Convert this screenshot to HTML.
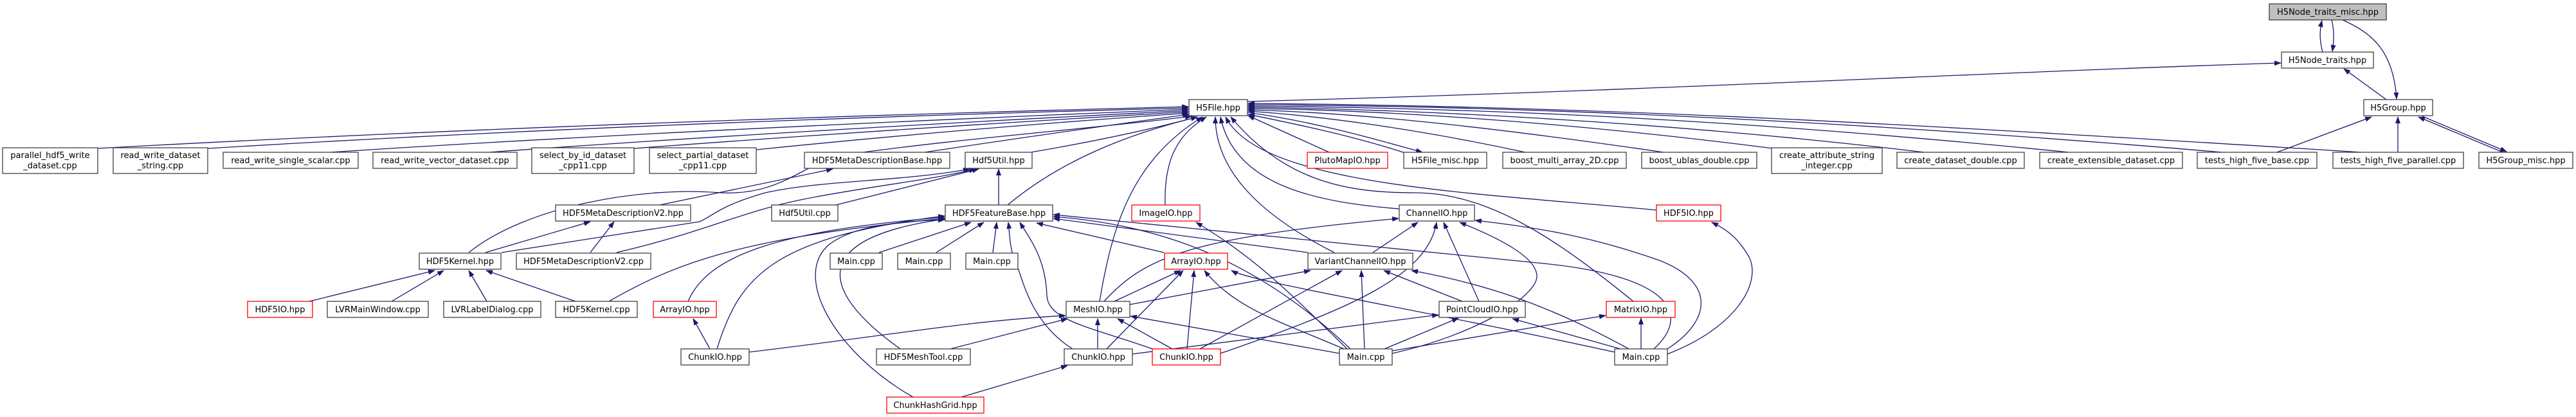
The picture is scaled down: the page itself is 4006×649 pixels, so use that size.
<!DOCTYPE html>
<html><head><meta charset="utf-8"><style>
html,body{margin:0;padding:0;background:#fff;}
svg{display:block;}
text{font-family:"DejaVu Sans","Liberation Sans",sans-serif;font-size:13px;fill:#000;text-anchor:middle;}
.e{fill:none;stroke:#191970;stroke-width:1.3;marker-end:url(#a);}
.n{fill:#fff;stroke:#404040;stroke-width:1.3;}
.r{fill:#fff;stroke:#ff0000;stroke-width:1.3;}
</style></head><body>
<svg width="4006" height="649" viewBox="0 0 4006 649" xmlns="http://www.w3.org/2000/svg">
<defs><marker id="a" markerUnits="userSpaceOnUse" markerWidth="11" markerHeight="8" refX="10" refY="4" orient="auto"><path d="M0,0 L11,4 L0,8 z" fill="#191970"/></marker></defs>
<g>
<!-- top -->
<path class="e" d="M3612,81 C3607,62 3607,48 3611,32"/>
<path class="e" d="M3626,31 C3630,46 3630,62 3627,80"/>
<path class="e" d="M3643,31 C3690,52 3722,80 3727,154"/>
<path class="e" d="M3711,155 L3645,107"/>
<path class="e" d="M3541,237 L3688,182"/>
<path class="e" d="M3729,237 L3729,182"/>
<path class="e" d="M3892,237 L3761,182"/>
<path class="e" d="M3767,181 L3898,236"/>
<path class="e" d="M1940,158 C2600,140 3100,112 3547,98"/>
<!-- to H5File -->
<path class="e" d="M150,231 Q900,190 1848,166"/>
<path class="e" d="M323,231 Q1000,190 1848,168"/>
<path class="e" d="M513,237 Q1000,205 1848,170"/>
<path class="e" d="M760,237 Q1200,205 1848,172"/>
<path class="e" d="M986,231 Q1400,200 1848,174"/>
<path class="e" d="M1176,233 Q1500,200 1848,176"/>
<path class="e" d="M1438,237 Q1650,205 1849,178"/>
<path class="e" d="M1603,237 Q1750,212 1862,182"/>
<path class="e" d="M729,393 C820,320 1000,290 1120,300 C1220,305 1250,250 1320,240 C1500,215 1700,200 1853,181"/>
<path class="e" d="M1567,319 C1650,250 1750,210 1862,182"/>
<path class="e" d="M1710,469 C1730,350 1760,250 1870,182"/>
<path class="e" d="M1812,319 C1810,250 1830,210 1876,182"/>
<path class="e" d="M2075,393 C1950,330 1890,260 1890,182"/>
<path class="e" d="M2176,325 C2050,315 1920,290 1898,182"/>
<path class="e" d="M2576,327 C2300,300 1960,290 1906,182"/>
<path class="e" d="M2540,469 C2430,380 2320,300 2200,300 C2100,300 2000,285 1914,182"/>
<path class="e" d="M2067,237 L1941,180"/>
<path class="e" d="M2185,238 C2100,210 2000,190 1941,178"/>
<path class="e" d="M1940,175 C2050,190 2150,220 2212,237"/>
<path class="e" d="M2372,237 C2200,200 2050,180 1941,173"/>
<path class="e" d="M2587,237 C2300,195 2100,175 1941,171"/>
<path class="e" d="M2757,231 C2400,185 2100,170 1941,169"/>
<path class="e" d="M2992,237 C2600,190 2200,170 1941,167"/>
<path class="e" d="M3217,237 C2700,185 2300,168 1941,165"/>
<path class="e" d="M3456,237 C2900,190 2400,165 1941,163"/>
<path class="e" d="M3672,237 C3000,195 2500,165 1941,161"/>
<!-- middle -->
<path class="e" d="M1026,319 L1295,263"/>
<path class="e" d="M755,393 L918,345"/>
<path class="e" d="M918,393 L955,345"/>
<path class="e" d="M780,393 L1088,345 C1110,335 1120,320 1190,300 C1280,280 1400,283 1508,263"/>
<path class="e" d="M959,393 C1100,360 1150,330 1250,310 C1350,290 1450,280 1517,263"/>
<path class="e" d="M1300,319 L1522,263"/>
<path class="e" d="M1553,319 L1553,263"/>
<path class="e" d="M947,469 C1050,410 1150,370 1469,340"/>
<path class="e" d="M1070,469 C1100,400 1200,360 1469,338"/>
<path class="e" d="M1115,543 C1150,430 1200,370 1469,336"/>
<path class="e" d="M1400,543 C1270,450 1260,370 1469,341"/>
<path class="e" d="M1420,618 C1300,550 1230,430 1290,380 C1330,350 1400,345 1469,342"/>
<path class="e" d="M1367,393 L1510,346"/>
<path class="e" d="M1456,393 L1530,346"/>
<path class="e" d="M1544,393 L1550,346"/>
<path class="e" d="M1810,393 L1612,347"/>
<path class="e" d="M1668,543 C1600,500 1590,430 1580,410 C1570,390 1570,360 1568,346"/>
<path class="e" d="M1792,543 C1700,510 1630,500 1628,460 C1626,400 1600,370 1586,346"/>
<path class="e" d="M2034,393 L1638,340"/>
<path class="e" d="M2100,543 C1950,400 1800,350 1638,337"/>
<path class="e" d="M2572,543 C2630,490 2600,430 2400,410 C2200,390 1900,360 1638,334"/>
<path class="e" d="M1495,618 L1660,569"/>
<path class="e" d="M1478,543 L1660,496"/>
<path class="e" d="M1165,548 C1400,520 1500,500 1657,491"/>
<path class="e" d="M1104,543 L1078,496"/>
<path class="e" d="M1707,543 L1707,496"/>
<path class="e" d="M1823,543 L1738,496"/>
<path class="e" d="M2083,550 L1758,492"/>
<path class="e" d="M1733,469 L1836,421"/>
<path class="e" d="M1721,543 L1840,421"/>
<path class="e" d="M1846,543 L1857,421"/>
<path class="e" d="M2090,543 C1990,500 1920,480 1873,421"/>
<path class="e" d="M2511,548 C2200,480 1950,440 1915,421"/>
<path class="e" d="M1717,469 C1780,400 1850,370 2175,340"/>
<path class="e" d="M1757,474 L2038,421"/>
<path class="e" d="M1866,543 L2087,421"/>
<path class="e" d="M1898,550 C2100,480 2220,430 2234,346"/>
<path class="e" d="M2095,543 C2000,450 1950,400 1860,346"/>
<path class="e" d="M2135,393 L2205,346"/>
<path class="e" d="M2122,543 L2117,421"/>
<path class="e" d="M2274,469 L2152,421"/>
<path class="e" d="M2533,543 C2400,470 2300,440 2195,421"/>
<path class="e" d="M2165,550 C2300,520 2390,460 2390,430 C2390,400 2330,370 2270,346"/>
<path class="e" d="M2300,469 L2245,346"/>
<path class="e" d="M2593,543 C2660,500 2670,440 2580,405 C2480,370 2400,355 2294,343"/>
<path class="e" d="M2153,543 L2268,495"/>
<path class="e" d="M2165,546 L2497,491"/>
<path class="e" d="M2552,543 L2552,495"/>
<path class="e" d="M2520,543 L2352,496"/>
<path class="e" d="M2593,551 C2700,510 2740,440 2720,400 C2700,365 2680,355 2662,346"/>
<path class="e" d="M1761,551 L2237,490"/>
<path class="e" d="M481,469 L676,421"/>
<path class="e" d="M609,469 L690,421"/>
<path class="e" d="M757,469 L729,421"/>
<path class="e" d="M895,469 L756,421"/>
</g>
<g>
<rect x="3529" y="6" width="182" height="25" fill="#bfbfbf" stroke="#404040" stroke-width="1.3"/><text x="3620" y="23">H5Node_traits_misc.hpp</text>
<rect class="n" x="3548" y="81" width="143" height="25"/><text x="3619.5" y="98">H5Node_traits.hpp</text>
<rect class="n" x="1849" y="155" width="91" height="25"/><text x="1894.5" y="172">H5File.hpp</text>
<rect class="n" x="3676" y="155" width="107" height="25"/><text x="3729.5" y="172">H5Group.hpp</text>

<rect class="n" x="4" y="230" width="148" height="40"/><text x="78" y="246">parallel_hdf5_write</text><text x="78" y="262">_dataset.cpp</text>
<rect class="n" x="176" y="230" width="147" height="40"/><text x="249.5" y="246">read_write_dataset</text><text x="249.5" y="262">_string.cpp</text>
<rect class="n" x="347" y="237" width="210" height="25"/><text x="452" y="254">read_write_single_scalar.cpp</text>
<rect class="n" x="580" y="237" width="224" height="25"/><text x="692" y="254">read_write_vector_dataset.cpp</text>
<rect class="n" x="827" y="230" width="159" height="40"/><text x="906.5" y="246">select_by_id_dataset</text><text x="906.5" y="262">_cpp11.cpp</text>
<rect class="n" x="1010" y="230" width="166" height="40"/><text x="1093" y="246">select_partial_dataset</text><text x="1093" y="262">_cpp11.cpp</text>
<rect class="n" x="1251" y="237" width="226" height="25"/><text x="1364" y="254">HDF5MetaDescriptionBase.hpp</text>
<rect class="n" x="1501" y="237" width="104" height="25"/><text x="1553" y="254">Hdf5Util.hpp</text>
<rect class="r" x="2033" y="237" width="125" height="25"/><text x="2095.5" y="254">PlutoMapIO.hpp</text>
<rect class="n" x="2183" y="237" width="129" height="25"/><text x="2247.5" y="254">H5File_misc.hpp</text>
<rect class="n" x="2337" y="237" width="192" height="25"/><text x="2433" y="254">boost_multi_array_2D.cpp</text>
<rect class="n" x="2553" y="237" width="179" height="25"/><text x="2642.5" y="254">boost_ublas_double.cpp</text>
<rect class="n" x="2755" y="230" width="172" height="40"/><text x="2841" y="246">create_attribute_string</text><text x="2841" y="262">_integer.cpp</text>
<rect class="n" x="2950" y="237" width="198" height="25"/><text x="3049" y="254">create_dataset_double.cpp</text>
<rect class="n" x="3172" y="237" width="222" height="25"/><text x="3283" y="254">create_extensible_dataset.cpp</text>
<rect class="n" x="3417" y="237" width="186" height="25"/><text x="3510" y="254">tests_high_five_base.cpp</text>
<rect class="n" x="3628" y="237" width="203" height="25"/><text x="3729.5" y="254">tests_high_five_parallel.cpp</text>
<rect class="n" x="3855" y="237" width="146" height="25"/><text x="3928" y="254">H5Group_misc.hpp</text>

<rect class="n" x="864" y="319" width="210" height="25"/><text x="969" y="336">HDF5MetaDescriptionV2.hpp</text>
<rect class="n" x="1200" y="319" width="103" height="25"/><text x="1251.5" y="336">Hdf5Util.cpp</text>
<rect class="n" x="1470" y="319" width="167" height="25"/><text x="1553.5" y="336">HDF5FeatureBase.hpp</text>
<rect class="r" x="1760" y="319" width="106" height="25"/><text x="1813" y="336">ImageIO.hpp</text>
<rect class="n" x="2176" y="319" width="117" height="25"/><text x="2234.5" y="336">ChannelIO.hpp</text>
<rect class="r" x="2576" y="319" width="100" height="25"/><text x="2626" y="336">HDF5IO.hpp</text>

<rect class="n" x="652" y="394" width="127" height="25"/><text x="715.5" y="411">HDF5Kernel.hpp</text>
<rect class="n" x="803" y="394" width="209" height="25"/><text x="907.5" y="411">HDF5MetaDescriptionV2.cpp</text>
<rect class="n" x="1291" y="394" width="81" height="25"/><text x="1331.5" y="411">Main.cpp</text>
<rect class="n" x="1396" y="394" width="82" height="25"/><text x="1437" y="411">Main.cpp</text>
<rect class="n" x="1502" y="394" width="81" height="25"/><text x="1542.5" y="411">Main.cpp</text>
<rect class="r" x="1811" y="394" width="98" height="25"/><text x="1860" y="411">ArrayIO.hpp</text>
<rect class="n" x="2034" y="394" width="163" height="25"/><text x="2115.5" y="411">VariantChannelIO.hpp</text>

<rect class="r" x="385" y="469" width="101" height="25"/><text x="435.5" y="486">HDF5IO.hpp</text>
<rect class="n" x="509" y="469" width="157" height="25"/><text x="587.5" y="486">LVRMainWindow.cpp</text>
<rect class="n" x="690" y="469" width="151" height="25"/><text x="765.5" y="486">LVRLabelDialog.cpp</text>
<rect class="n" x="864" y="469" width="127" height="25"/><text x="927.5" y="486">HDF5Kernel.cpp</text>
<rect class="r" x="1016" y="469" width="98" height="25"/><text x="1065" y="486">ArrayIO.hpp</text>
<rect class="n" x="1658" y="469" width="99" height="25"/><text x="1707.5" y="486">MeshIO.hpp</text>
<rect class="n" x="2238" y="469" width="134" height="25"/><text x="2305" y="486">PointCloudIO.hpp</text>
<rect class="r" x="2498" y="469" width="107" height="25"/><text x="2551.5" y="486">MatrixIO.hpp</text>

<rect class="n" x="1059" y="543" width="106" height="25"/><text x="1112" y="560">ChunkIO.hpp</text>
<rect class="n" x="1363" y="543" width="146" height="25"/><text x="1436" y="560">HDF5MeshTool.cpp</text>
<rect class="n" x="1655" y="543" width="106" height="25"/><text x="1708" y="560">ChunkIO.hpp</text>
<rect class="r" x="1792" y="543" width="106" height="25"/><text x="1845" y="560">ChunkIO.hpp</text>
<rect class="n" x="2083" y="543" width="82" height="25"/><text x="2124" y="560">Main.cpp</text>
<rect class="n" x="2511" y="543" width="82" height="25"/><text x="2552" y="560">Main.cpp</text>

<rect class="r" x="1379" y="618" width="151" height="25"/><text x="1454.5" y="635">ChunkHashGrid.hpp</text>
</g>
</svg>
</body></html>
